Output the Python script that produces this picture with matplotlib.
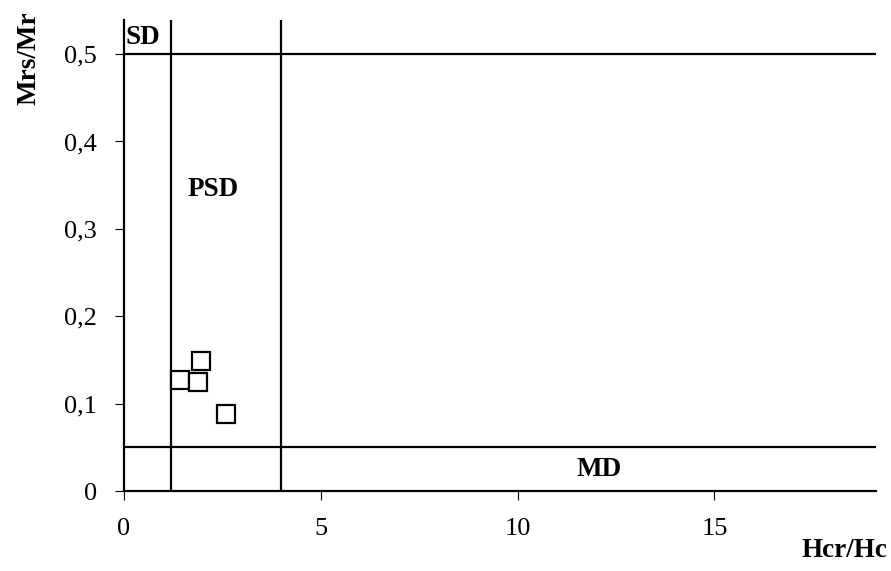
import matplotlib.pyplot as plt

plt.rcParams['font.family'] = ['Liberation Serif', 'DejaVu Serif']

# measured ratios (Day plot)
hcr_hc = [1.42, 1.95, 1.88, 2.59]
mrs_mr = [0.127, 0.149, 0.125, 0.088]

# domain boundaries
sd_hcr = 1.2
md_hcr = 4.0
sd_mrs = 0.5
md_mrs = 0.05

xticks = [0, 5, 10, 15]
yticks = [0, 0.1, 0.2, 0.3, 0.4, 0.5]
ytick_labels = ['0', '0,1', '0,2', '0,3', '0,4', '0,5']

fig = plt.figure(figsize=(8.91, 5.71), dpi=100)
ax = fig.add_axes([0.139, 0.140, 0.844, 0.825])

xmax = 19.1
ymax = 0.539
ax.set_xlim(0, xmax)
ax.set_ylim(0, ymax)

lw = 1.6
ax.axvline(sd_hcr, color='black', lw=lw)
ax.axvline(md_hcr, color='black', lw=lw)
ax.axhline(sd_mrs, color='black', lw=lw)
ax.axhline(md_mrs, color='black', lw=lw)

ax.plot(hcr_hc, mrs_mr, 's', ms=13.5, mfc='white', mec='black', mew=1.6, ls='none')

fs = 19.5
ax.text(0.03, 0.519, 'SD', fontsize=fs, fontweight='bold', va='center', ha='left')
ax.text(1.62, 0.345, 'PSD', fontsize=fs, fontweight='bold', va='center', ha='left')
ax.text(12.08, 0.025, 'MD', fontsize=fs, fontweight='bold', va='center', ha='center')

for s in ['top', 'right']:
    ax.spines[s].set_visible(False)
for s in ['left', 'bottom']:
    ax.spines[s].set_linewidth(lw)

ax.set_xticks(xticks)
ax.set_yticks(yticks)
ax.set_yticklabels(ytick_labels)
ax.tick_params(axis='both', direction='out', length=6.5, width=0.8, labelsize=19, colors='black')
ax.tick_params(axis='x', pad=13)
ax.tick_params(axis='y', pad=13)

fig.text(0.996, 0.036, 'Hcr/Hc', fontsize=fs, fontweight='bold', ha='right', va='center')
fig.text(0.033, 0.898, 'Mrs/Mr', fontsize=fs, fontweight='bold', ha='center', va='center', rotation=90)

fig.savefig('out.png', dpi=100)
